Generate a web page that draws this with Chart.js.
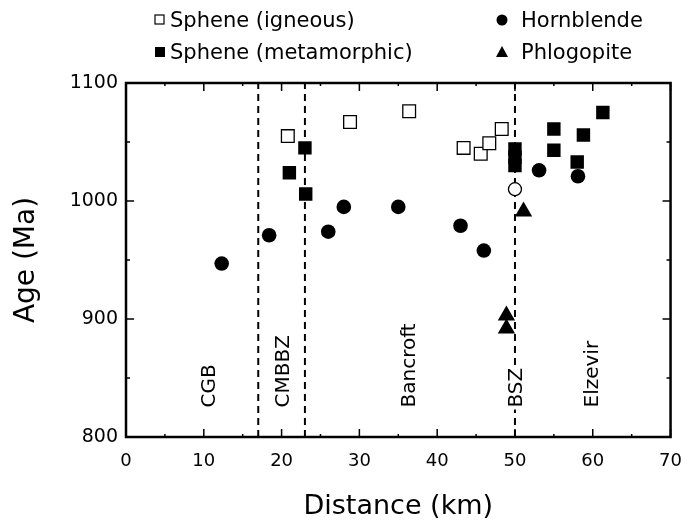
<!DOCTYPE html>
<html lang="en">
<head>
  <meta charset="UTF-8" />
  <title>Age vs Distance</title>
  <script src="https://cdn.jsdelivr.net/npm/chart.js"></script>
  <style>
    html, body { margin: 0; padding: 0; background: #ffffff; }
    #chartBox { width: 696px; height: 520px; }
  </style>
</head>
<body>
  <div id="chartBox">
    <canvas id="ageChart" width="696" height="520"></canvas>
  </div>

  <script>
    // distance (km) / age (Ma)
    const sphIgnX   = [20.8, 28.8, 36.4, 43.4, 45.6, 46.7, 48.3];
    const sphIgnAge = [1055, 1067, 1076, 1045, 1040, 1049, 1061];

    const sphMetX   = [21.0, 23.0, 23.1, 50.0, 50.0, 50.0, 55.0, 55.0, 58.0, 58.8, 61.3];
    const sphMetAge = [1024, 1045, 1006, 1044, 1037, 1030, 1061, 1043, 1033, 1056, 1075];

    const hblX   = [12.3, 18.4, 26.0, 28.0, 35.0, 43.0, 46.0, 53.1, 58.1];
    const hblAge = [947, 971, 974, 995, 995, 979, 958, 1026, 1021];

    // the single open circle on the BSZ line
    const hblOpenX   = [50.0];
    const hblOpenAge = [1010];

    const phlX   = [48.9, 48.9, 51.1];
    const phlAge = [903, 892, 991];

    // zone boundaries and zone names
    const boundaryX = [17, 23, 50];
    const zoneNames = ['CGB', 'CMBBZ', 'Bancroft', 'BSZ', 'Elzevir'];
    const zoneX     = [10.7, 20.1, 36.3, 50.1, 59.9];
    const zoneBaseAge = 825;

    const legendNames = ['Sphene (igneous)', 'Sphene (metamorphic)', 'Hornblende', 'Phlogopite'];

    const FONT = '"DejaVu Sans", sans-serif';

    function toPoints(xs, ys) {
      return xs.map((x, i) => ({ x: x, y: ys[i] }));
    }

    // inward ticks on all four sides + frame + zone names + legend
    const decorations = {
      id: 'decorations',
      afterDraw(chart) {
        const ctx = chart.ctx;
        const area = chart.chartArea;
        const xs = chart.scales.x;
        const ys = chart.scales.y;
        ctx.save();
        ctx.strokeStyle = '#000';
        ctx.lineWidth = 1.5;

        for (let v = 0; v <= 70; v += 5) {
          const px = xs.getPixelForValue(v);
          const len = v % 10 === 0 ? 8 : 3;
          ctx.beginPath();
          ctx.moveTo(px, area.bottom); ctx.lineTo(px, area.bottom - len);
          ctx.moveTo(px, area.top); ctx.lineTo(px, area.top + len);
          ctx.stroke();
        }
        for (let v = 800; v <= 1100; v += 50) {
          const py = ys.getPixelForValue(v);
          const len = v % 100 === 0 ? 8 : 4;
          ctx.beginPath();
          ctx.moveTo(area.left, py); ctx.lineTo(area.left + len, py);
          ctx.moveTo(area.right, py); ctx.lineTo(area.right - len, py);
          ctx.stroke();
        }

        ctx.lineWidth = 2.5;
        ctx.strokeRect(area.left, area.top, area.right - area.left, area.bottom - area.top);

        // zone names, rotated
        ctx.font = '20px ' + FONT;
        ctx.fillStyle = '#000';
        ctx.textAlign = 'left';
        ctx.textBaseline = 'middle';
        zoneNames.forEach((name, i) => {
          const px = xs.getPixelForValue(zoneX[i]);
          const py = ys.getPixelForValue(zoneBaseAge);
          const w = ctx.measureText(name).width;
          ctx.save();
          ctx.translate(px, py);
          ctx.rotate(-Math.PI / 2);
          ctx.fillStyle = '#fff';
          ctx.fillRect(-2, -10, w + 4, 20);
          ctx.fillStyle = '#000';
          ctx.fillText(name, 0, 1);
          ctx.restore();
        });

        // legend
        ctx.font = '21px ' + FONT;
        ctx.textBaseline = 'alphabetic';
        ctx.lineWidth = 1.2;
        ctx.strokeRect(155, 15, 9, 9);
        ctx.fillRect(155, 47, 10, 10);
        ctx.fillText(legendNames[0], 170, 27);
        ctx.fillText(legendNames[1], 170, 59);

        ctx.beginPath();
        ctx.arc(502, 20, 5.5, 0, Math.PI * 2);
        ctx.fill();
        ctx.beginPath();
        ctx.moveTo(502, 46); ctx.lineTo(508, 57); ctx.lineTo(496, 57);
        ctx.closePath();
        ctx.fill();
        ctx.fillText(legendNames[2], 521, 27);
        ctx.fillText(legendNames[3], 521, 59);

        ctx.restore();
      }
    };

    const boundarySets = boundaryX.map(bx => ({
      type: 'line',
      data: [{ x: bx, y: 800 }, { x: bx, y: 1100 }],
      borderColor: '#000',
      borderWidth: 2,
      borderDash: [7, 5],
      pointRadius: 0,
      order: 10
    }));

    const ctx = document.getElementById('ageChart').getContext('2d');
    const ageChart = new Chart(ctx, {
      type: 'scatter',
      data: {
        datasets: boundarySets.concat([
          {
            label: legendNames[0],
            data: toPoints(sphIgnX, sphIgnAge),
            pointStyle: 'rect',
            pointRadius: 9,
            backgroundColor: '#fff',
            borderColor: '#000',
            borderWidth: 1.3
          },
          {
            label: legendNames[1],
            data: toPoints(sphMetX, sphMetAge),
            pointStyle: 'rect',
            pointRadius: 9.5,
            backgroundColor: '#000',
            borderColor: '#000',
            borderWidth: 0
          },
          {
            label: legendNames[2],
            data: toPoints(hblX, hblAge),
            pointStyle: 'circle',
            pointRadius: 7.3,
            backgroundColor: '#000',
            borderColor: '#000',
            borderWidth: 0
          },
          {
            label: 'Hornblende (open)',
            data: toPoints(hblOpenX, hblOpenAge),
            pointStyle: 'circle',
            pointRadius: 6.5,
            backgroundColor: '#fff',
            borderColor: '#000',
            borderWidth: 1.3
          },
          {
            label: legendNames[3],
            data: toPoints(phlX, phlAge),
            pointStyle: 'triangle',
            pointRadius: 10,
            backgroundColor: '#000',
            borderColor: '#000',
            borderWidth: 0
          }
        ])
      },
      options: {
        responsive: false,
        animation: false,
        layout: { padding: { top: 83, right: 13, left: 0, bottom: 0 } },
        plugins: {
          legend: { display: false },
          tooltip: { enabled: false }
        },
        scales: {
          x: {
            type: 'linear',
            min: 0,
            max: 70,
            grid: { display: false, drawTicks: false },
            border: { display: false },
            ticks: { stepSize: 10, padding: 14, color: '#000', font: { family: FONT, size: 18 } },
            title: { display: true, text: 'Distance (km)', color: '#000', padding: 0, font: { family: FONT, size: 27, lineHeight: 1 } },
            afterFit(scale) { scale.height = 83; }
          },
          y: {
            type: 'linear',
            min: 800,
            max: 1100,
            grid: { display: false, drawTicks: false },
            border: { display: false },
            ticks: {
              stepSize: 100, padding: 8, color: '#000', font: { family: FONT, size: 19 },
              callback: v => String(v)
            },
            title: { display: true, text: 'Age (Ma)', color: '#000', padding: { top: 10, bottom: 0 }, font: { family: FONT, size: 28, lineHeight: 1.2 } },
            afterFit(scale) { scale.width = 126; }
          }
        }
      },
      plugins: [decorations]
    });
  </script>
</body>
</html>
